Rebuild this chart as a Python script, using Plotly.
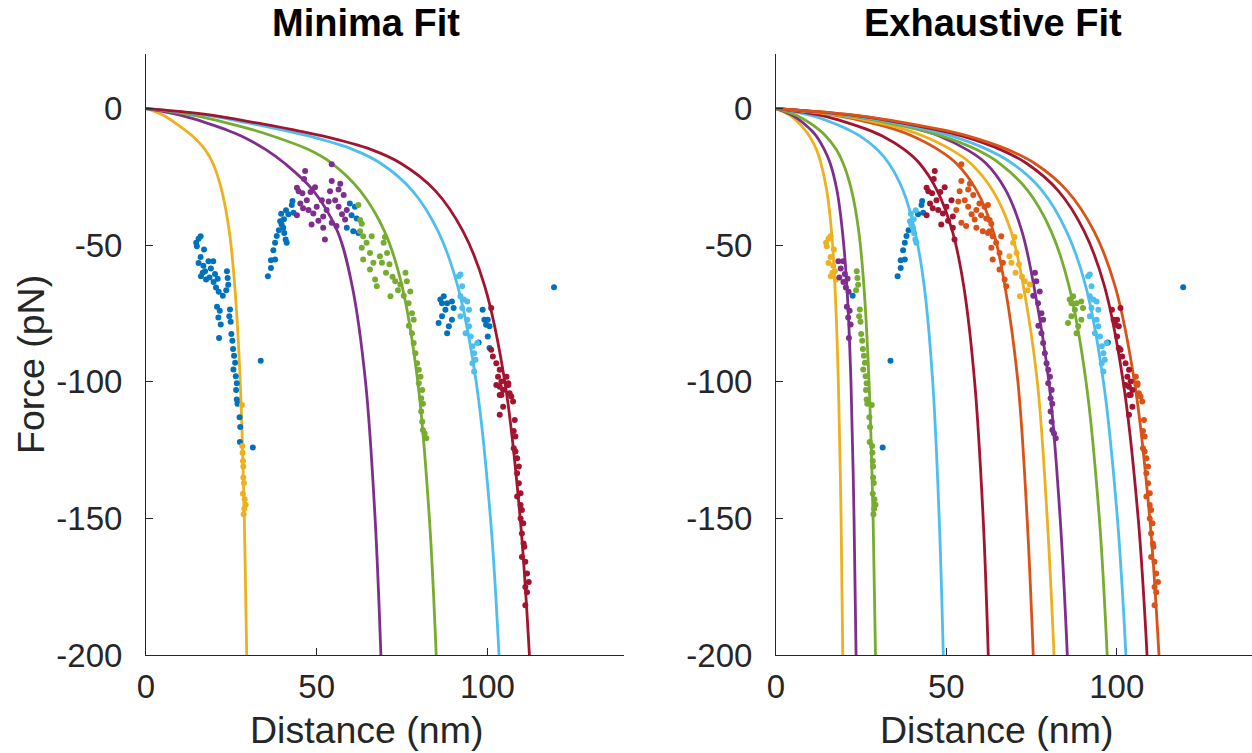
import plotly.graph_objects as go

# MATLAB default line colours
COLORS = {
    "blue": "#0072BD",
    "orange": "#D95319",
    "yellow": "#EDB120",
    "purple": "#7E2F8E",
    "green": "#77AC30",
    "cyan": "#4DBEEE",
    "red": "#A2142F",
}

X_TICKS = [0, 50, 100]
Y_TICKS = [0, -50, -100, -150, -200]

FORCE_LEVELS = [0, -1, -2.5, -5, -7.5, -10, -15, -20, -30, -45, -65, -100, -150, -200]

# minima fit curves: distance (nm) at each force level
MIN_YELLOW = [0, 2.5, 5.2, 8.3, 11.1, 13.6, 17.3, 19.6, 22.2, 24.4, 26.0, 27.6, 28.8, 29.5]
MIN_PURPLE = [0, 4.8, 10.3, 17.2, 23.0, 27.9, 35.1, 40.6, 49.0, 56.1, 60.4, 64.3, 67.1, 68.8]
MIN_GREEN = [0, 6.8, 14.0, 23.0, 30.6, 37.0, 47.6, 54.4, 62.7, 69.9, 75.0, 79.6, 83.0, 85.0]
MIN_CYAN = [0, 8.8, 18.1, 29.0, 38.8, 47.6, 60.7, 68.7, 78.0, 85.6, 91.3, 96.7, 100.9, 103.4]
MIN_RED = [0, 9.5, 19.7, 31.4, 42.1, 51.7, 66.0, 74.6, 84.7, 92.9, 99.2, 105.1, 109.6, 112.3]

# exhaustive fit curves
EX_YELLOW1 = [0, 2.0, 4.1, 6.5, 8.3, 9.8, 11.9, 13.2, 14.9, 16.3, 17.3, 18.3, 19.1, 19.6]
EX_PURPLE1 = [0, 2.4, 4.9, 7.8, 10.0, 11.8, 14.2, 15.9, 17.9, 19.5, 20.8, 22.0, 22.9, 23.5]
EX_GREEN1 = [0, 2.9, 6.1, 9.6, 12.4, 14.6, 17.7, 19.7, 22.2, 24.3, 25.8, 27.3, 28.5, 29.2]
EX_CYAN1 = [0, 4.9, 10.3, 16.2, 20.9, 24.6, 29.7, 33.1, 37.3, 40.8, 43.5, 46.0, 47.9, 49.1]
EX_RED1 = [0, 6.2, 13.1, 20.6, 26.5, 31.2, 37.7, 42.1, 47.3, 51.8, 55.1, 58.3, 60.8, 62.3]
EX_ORANGE1 = [0, 8.3, 17.4, 27.2, 34.7, 40.0, 47.6, 52.9, 58.9, 63.8, 67.2, 71.0, 73.7, 75.5]
EX_YELLOW2 = [0, 9.0, 18.8, 29.4, 37.5, 43.2, 51.4, 57.1, 63.6, 69.0, 72.6, 76.7, 79.6, 81.6]
EX_PURPLE2 = [0, 10.3, 21.4, 33.3, 41.9, 47.9, 56.0, 61.6, 67.5, 72.2, 75.7, 80.1, 83.4, 85.5]
EX_GREEN2 = [0, 9.7, 20.4, 32.1, 41.3, 48.6, 58.8, 65.6, 73.9, 80.8, 86.0, 91.0, 94.9, 97.2]
EX_CYAN2 = [0, 10.3, 21.6, 33.9, 43.6, 51.4, 62.1, 69.3, 78.1, 85.3, 90.9, 96.1, 100.2, 102.7]
EX_RED2 = [0, 10.9, 22.9, 35.9, 46.3, 54.5, 65.9, 73.5, 82.8, 90.5, 96.4, 101.9, 106.3, 108.9]
EX_ORANGE2 = [0, 11.2, 23.6, 37.1, 47.8, 56.2, 68.0, 75.9, 85.4, 93.4, 99.5, 105.2, 109.7, 112.4]

# raw force-distance points (nm, pN), grouped by how each panel colours them
SEG_A_YEL = [(14.7, -49.1), (15.4, -47.6), (16.0, -46.7), (14.9, -50.4), (17.0, -51.6), (16.0, -54.3),
             (16.6, -60.1), (16.1, -61.4), (17.3, -59.5), (15.4, -56.5), (16.8, -57.5), (17.6, -62.5)]
SEG_A_PUR = [(18.3, -55.9), (19.7, -55.9), (19.0, -58.5), (20.2, -60.5), (18.6, -61.8), (19.8, -63.5),
             (21.0, -62.3), (20.5, -65.5), (21.3, -67.0), (20.8, -72.5), (21.6, -74.0), (21.2, -76.5),
             (21.9, -79.0), (21.4, -84.0)]
SEG_A_BLU = [(22.5, -68.5)]
SEG_A_GRN = [(23.7, -59.5), (23.9, -62.0), (24.1, -64.5), (23.5, -66.5), (24.6, -73.5), (24.4, -76.0),
             (24.8, -78.0), (25.0, -82.5), (25.3, -85.0), (25.5, -88.0), (25.8, -90.5), (26.1, -93.0),
             (25.6, -95.5), (26.3, -98.0), (26.6, -100.5), (26.4, -103.0), (26.6, -106.5), (26.8, -108.0),
             (27.4, -113.0), (27.6, -116.5), (27.5, -122.0)]
SEG_A_END = [(28.1, -108.5), (28.2, -123.5), (28.3, -126.0), (28.4, -129.0), (28.5, -131.0), (28.5, -135.0),
             (28.7, -137.0), (28.4, -141.0), (28.9, -143.0), (29.2, -145.0), (28.8, -146.5), (28.6, -148.5)]
OUTLIERS = [(31.3, -124.0), (33.6, -92.3), (119.5, -65.4)]
SEG_B_BLU = [(35.7, -61.4), (36.6, -58.3), (36.6, -55.5), (37.8, -55.2), (37.3, -51.8), (37.8, -49.1),
             (38.3, -46.6), (38.9, -44.5), (41.7, -38.7), (42.7, -35.3), (43.2, -38.1), (42.9, -33.8)]
SEG_B_CYN = [(39.3, -41.2), (39.7, -42.4), (40.2, -43.6), (40.5, -45.5), (40.9, -47.9), (41.2, -49.1),
             (39.6, -38.5), (40.4, -40.5), (41.0, -37.2)]
SEG_B_RED = [(44.2, -29.0), (44.7, -30.2), (46.6, -22.8), (46.3, -25.8), (44.2, -39.0), (45.2, -34.7),
             (47.1, -33.5), (47.6, -37.1), (48.5, -42.4), (49.0, -38.4), (50.0, -35.9), (51.5, -33.5),
             (51.9, -39.5), (51.9, -43.6), (52.4, -47.9), (45.8, -31.0), (48.2, -30.5), (49.5, -28.8),
             (46.0, -36.5), (50.5, -41.0)]
SEG_B_OR1 = [(52.9, -37.1), (54.4, -20.4), (54.4, -26.5), (53.9, -30.2), (56.4, -29.6), (55.4, -33.5),
             (56.4, -35.9), (57.9, -31.6), (54.4, -41.8), (55.8, -43.0), (58.8, -37.1), (58.3, -40.6),
             (57.4, -38.7), (53.5, -34.0), (56.9, -27.5)]
SEG_B_OR2 = [(59.7, -34.7), (61.2, -35.9), (60.2, -39.0), (61.7, -40.2), (58.8, -43.6), (60.7, -44.9), (62.2, -45.5)]
SEG_B_OR3 = [(62.2, -35.3), (62.7, -40.8), (63.2, -42.1), (62.7, -44.9), (63.6, -46.7), (66.1, -46.7),
             (64.6, -49.1), (63.2, -50.9), (65.6, -52.8), (63.6, -55.2), (66.6, -56.4), (65.6, -58.9),
             (67.1, -62.5), (67.6, -65.0)]
SEG_B_YEL = [(68.5, -54.0), (69.6, -49.1), (70.6, -52.8), (69.1, -56.4), (71.3, -57.0), (70.3, -60.1),
             (73.0, -63.2), (74.5, -64.4), (71.6, -68.7), (72.2, -61.5), (73.8, -66.5), (70.0, -47.0)]
SEG_B_PUR = [(76.0, -60.1), (76.4, -63.2), (77.4, -66.9), (76.9, -71.2), (77.9, -74.9), (78.4, -77.3),
             (77.9, -82.2), (78.4, -85.8), (78.9, -89.5), (79.4, -93.2), (79.9, -95.6), (80.4, -98.1),
             (79.9, -100.5), (80.9, -103.0), (80.6, -106.0), (81.1, -108.0), (80.6, -110.9), (80.9, -114.6),
             (81.1, -117.6), (81.6, -118.9), (82.1, -120.7), (75.5, -68.5), (77.0, -79.5)]
SEG_C_GRN = [(86.2, -69.9), (87.2, -68.7), (86.7, -71.2), (88.2, -71.2), (87.7, -73.6), (89.6, -70.6),
             (90.1, -73.0), (86.7, -76.0), (89.6, -77.3), (85.7, -78.5), (88.7, -79.7), (88.2, -82.2)]
SEG_C_CYN = [(91.6, -61.4), (92.1, -60.7), (92.6, -65.0), (92.1, -68.7), (93.1, -69.9), (94.1, -70.6),
             (92.6, -73.0), (92.1, -76.0), (94.1, -77.3), (94.6, -79.7), (93.6, -82.2), (95.1, -83.4),
             (95.6, -87.0), (97.0, -85.8), (96.1, -89.5), (96.5, -91.9), (95.6, -93.2), (96.1, -96.2),
             (94.6, -73.6)]
SEG_C_BLU = [(97.4, -85.6)]
SEG_C_RD1 = [(98.6, -73.6), (99.1, -77.3), (100.1, -77.3), (99.6, -79.1), (100.6, -79.7), (100.1, -83.4), (100.6, -87.6)]
SEG_C_RD2 = [(101.1, -73.0), (101.1, -88.3), (101.6, -90.7), (102.6, -93.2), (103.6, -95.6), (103.1, -98.1),
             (104.1, -99.9), (104.6, -103.0), (103.6, -104.8), (103.6, -101.8), (102.6, -101.2), (104.1, -104.8),
             (104.6, -109.1), (103.6, -112.1)]
SEG_C_ORN = [(105.6, -98.1), (106.1, -100.5), (106.5, -104.2), (106.1, -101.2), (107.0, -105.4), (107.5, -107.2),
             (108.0, -114.0), (107.7, -118.0), (108.2, -120.0), (107.7, -124.3), (108.2, -125.5), (108.7, -128.0),
             (109.2, -131.0), (108.7, -133.5), (109.2, -137.1), (109.7, -140.8), (108.7, -142.0), (109.7, -145.1),
             (110.1, -146.9), (109.7, -150.0), (110.5, -151.8), (110.1, -155.5), (110.6, -159.2), (110.8, -160.4),
             (110.1, -164.1), (111.1, -165.9), (111.6, -170.2), (112.1, -173.3), (111.1, -175.1), (111.6, -177.0),
             (111.1, -181.8)]

# (points, colour in minima panel, colour in exhaustive panel)
CLUSTERS = [
    (SEG_A_YEL, "blue", "yellow"), (SEG_A_PUR, "blue", "purple"), (SEG_A_BLU, "blue", "blue"),
    (SEG_A_GRN, "blue", "green"), (SEG_A_END, "yellow", "green"), (OUTLIERS, "blue", "blue"),
    (SEG_B_BLU, "blue", "blue"), (SEG_B_CYN, "blue", "cyan"), (SEG_B_RED, "purple", "red"),
    (SEG_B_OR1, "purple", "orange"), (SEG_B_OR2, "blue", "orange"), (SEG_B_OR3, "green", "orange"),
    (SEG_B_YEL, "green", "yellow"), (SEG_B_PUR, "green", "purple"), (SEG_C_GRN, "blue", "green"),
    (SEG_C_CYN, "cyan", "cyan"), (SEG_C_BLU, "blue", "blue"), (SEG_C_RD1, "blue", "red"),
    (SEG_C_RD2, "red", "red"), (SEG_C_ORN, "red", "orange"),
]

MIN_CURVES = [("yellow", MIN_YELLOW), ("purple", MIN_PURPLE), ("green", MIN_GREEN),
              ("cyan", MIN_CYAN), ("red", MIN_RED)]
EX_CURVES = [("yellow", EX_YELLOW1), ("purple", EX_PURPLE1), ("green", EX_GREEN1), ("cyan", EX_CYAN1),
             ("red", EX_RED1), ("orange", EX_ORANGE1), ("yellow", EX_YELLOW2), ("purple", EX_PURPLE2),
             ("green", EX_GREEN2), ("cyan", EX_CYAN2), ("red", EX_RED2), ("orange", EX_ORANGE2)]

FONT = "Liberation Sans, Arial, Helvetica, sans-serif"
AX_COLOR = "#262626"
W, H = 1252, 753

fig = go.Figure()

for panel, curves in [(1, MIN_CURVES), (2, EX_CURVES)]:
    xa = "x" if panel == 1 else "x2"
    ya = "y" if panel == 1 else "y2"
    for cname, xs in curves:
        fig.add_trace(go.Scatter(x=xs, y=FORCE_LEVELS, mode="lines", xaxis=xa, yaxis=ya,
                                 line=dict(color=COLORS[cname], width=2.8, shape="spline"),
                                 showlegend=False, hoverinfo="skip"))
    groups = {}
    for pts, c_min, c_ex in CLUSTERS:
        cname = c_min if panel == 1 else c_ex
        groups.setdefault(cname, []).extend(pts)
    for cname, pts in groups.items():
        fig.add_trace(go.Scatter(x=[p[0] for p in pts], y=[p[1] for p in pts], mode="markers",
                                 xaxis=xa, yaxis=ya,
                                 marker=dict(color=COLORS[cname], size=6),
                                 showlegend=False, hoverinfo="skip"))

axis_common = dict(showgrid=False, zeroline=False, showline=True, linecolor=AX_COLOR, linewidth=1,
                   ticks="inside", ticklen=7, tickwidth=1, tickcolor=AX_COLOR, automargin=False,
                   tickfont=dict(family=FONT, size=33, color=AX_COLOR))
y_dom = [1 - 655 / H, 1 - 54 / H]

fig.update_layout(
    width=W, height=H,
    margin=dict(l=0, r=0, t=0, b=0),
    paper_bgcolor="white", plot_bgcolor="white",
    xaxis=dict(domain=[146 / W, 624 / W], range=[0, 140], anchor="y",
               tickvals=X_TICKS, ticktext=[str(v) for v in X_TICKS], ticklabelstandoff=2, **axis_common),
    xaxis2=dict(domain=[776 / W, 1.0], range=[0, 139.7], anchor="y2",
                tickvals=X_TICKS, ticktext=[str(v) for v in X_TICKS], ticklabelstandoff=2, **axis_common),
    yaxis=dict(domain=y_dom, range=[-200, 20], anchor="x",
               tickvals=Y_TICKS, ticktext=[str(v) for v in Y_TICKS], ticklabelstandoff=16, **axis_common),
    yaxis2=dict(domain=y_dom, range=[-200, 20], anchor="x2",
                tickvals=Y_TICKS, ticktext=[str(v) for v in Y_TICKS], ticklabelstandoff=16, **axis_common),
)

label_font = dict(family=FONT, size=37.5, color=AX_COLOR)
title_font = dict(family=FONT, size=38, color="black")
annotations = [
    dict(text="<b>Minima Fit</b>", x=366 / W, y=1.0, yanchor="top", font=title_font),
    dict(text="<b>Exhaustive Fit</b>", x=993 / W, y=1.0, yanchor="top", font=title_font),
    dict(text="Distance (nm)", x=366 / W, y=0.0, yanchor="bottom", font=label_font),
    dict(text="Distance (nm)", x=996 / W, y=0.0, yanchor="bottom", font=label_font),
    dict(text="Force (pN)", x=31 / W, y=1 - 365 / H, yanchor="middle", font=label_font, textangle=-90),
]
for a in annotations:
    fig.add_annotation(xref="paper", yref="paper", xanchor="center", showarrow=False, **a)

# drop the page's default body margin so the 1252x753 figure fills the window exactly
fig.write_html("out.html", config={"displayModeBar": False},
               post_script="document.body.style.margin = '0';")
